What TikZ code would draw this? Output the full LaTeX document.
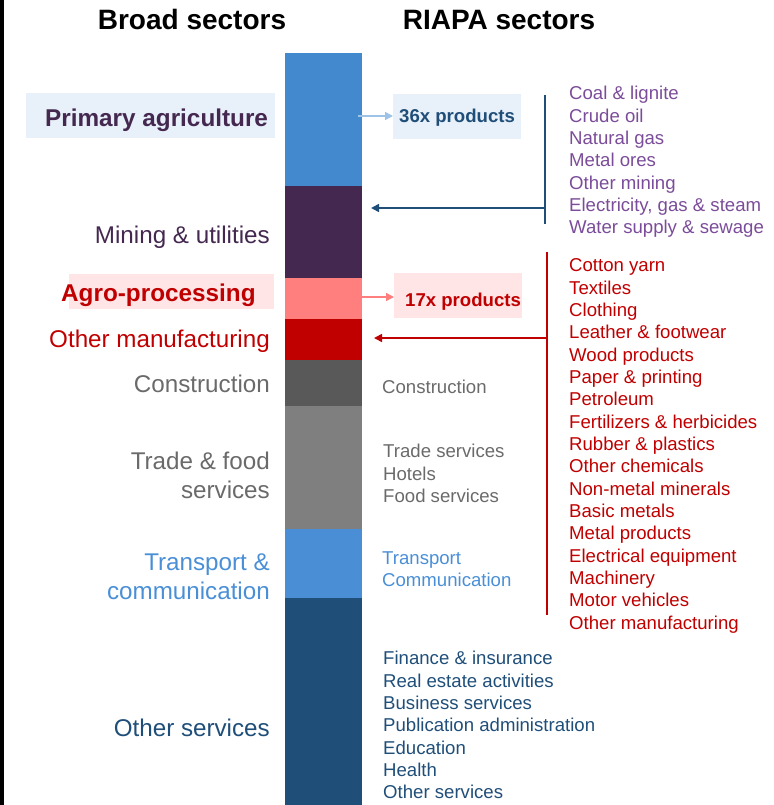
\documentclass[tikz,border=0pt]{standalone}
\usepackage{fontspec}
\setmainfont{Liberation Sans}
\usetikzlibrary{arrows.meta}
\definecolor{cblue}{HTML}{4389CD}
\definecolor{cpurple}{HTML}{44284F}
\definecolor{cpink}{HTML}{FF7F7F}
\definecolor{cred}{HTML}{C00000}
\definecolor{cdgray}{HTML}{595959}
\definecolor{cgray}{HTML}{7F7F7F}
\definecolor{cnavy}{HTML}{1F4E79}
\definecolor{tgray}{HTML}{6A6A6A}
\definecolor{tblue}{HTML}{4A8FD6}
\definecolor{lpurple}{HTML}{7B4C99}
\definecolor{boxblue}{HTML}{E8F1FA}
\definecolor{boxpink}{HTML}{FFE5E5}
\definecolor{arrblue}{HTML}{9DC3E6}
\begin{document}
\begin{tikzpicture}[x=1pt,y=-1pt,
  title/.style={font=\fontsize{28}{32}\selectfont\bfseries,anchor=base,inner sep=0},
  lefttxt/.style={font=\fontsize{24.2}{28.5}\selectfont,anchor=base east,inner sep=0,align=right},
  leftbold/.style={font=\fontsize{24.3}{28}\selectfont\bfseries,anchor=base west,inner sep=0},
  listtxt/.style={font=\fontsize{18.6}{22.35}\selectfont,anchor=base west,inner sep=0,align=left},
  prodtxt/.style={font=\fontsize{18.6}{22}\selectfont\bfseries,anchor=base west,inner sep=0},
  conn/.style={line width=1.6pt,-{Triangle[length=8pt,width=8pt]}},
  brace/.style={line width=1.4pt}]
\useasboundingbox (0,0) rectangle (773,805);
% left border
\draw[line width=3.5pt] (2.2,0) -- (2.2,805);
% titles
\node[title] (t1) at (192,30) {Broad sectors};
\node[title] (t2) at (499,30) {RIAPA sectors};
% bar segments
\fill[cblue]   (285,53)  rectangle (362,186);
\fill[cpurple] (285,186) rectangle (362,278);
\fill[cpink]   (285,278) rectangle (362,319);
\fill[cred]    (285,319) rectangle (362,360);
\fill[cdgray]  (285,360) rectangle (362,406);
\fill[cgray]   (285,406) rectangle (362,529);
\fill[tblue]   (285,529) rectangle (362,598);
\fill[cnavy]   (285,598) rectangle (362,805);
% highlight boxes left
\fill[boxblue] (26,93) rectangle (275,138);
\fill[boxpink] (69,274) rectangle (274,309);
% left labels
\node[leftbold,text=cpurple] (pa) at (45,127) {Primary agriculture};
\node[lefttxt,text=cpurple] (mu) at (270,243) {Mining \& utilities};
\node[leftbold,text=cred] (ap) at (61,301) {Agro-processing};
\node[lefttxt,text=cred] (om) at (270,347) {Other manufacturing};
\node[lefttxt,text=tgray] (co) at (270,392) {Construction};
\node[lefttxt,text=tgray,anchor=north east] (tf) at (270,452) {Trade \& food\\services};
\node[lefttxt,text=tblue,anchor=north east] (tc) at (270,554) {Transport \&\\communication};
\node[lefttxt,text=cnavy] (os) at (270,736) {Other services};
% product boxes
\fill[boxblue] (393,94) rectangle (521,139);
\node[prodtxt,text=cnavy] (p36) at (399,123) {36x products};
\fill[boxpink] (394,273) rectangle (522,318);
\node[prodtxt,text=cred] (p17) at (405,306) {17x products};
\coordinate (a1s) at (358,116);
\coordinate (a1e) at (393,116);
\coordinate (a2s) at (362,297);
\coordinate (a2e) at (394,297);
\draw[arrblue,conn] (a1s) -- (a1e);
\draw[cpink,conn] (a2s) -- (a2e);
% brackets and return arrows
\coordinate (b1t) at (545,95);
\coordinate (b1b) at (545,224);
\coordinate (b1m) at (545,208);
\coordinate (b1e) at (371,208);
\draw[cnavy,brace] (b1t) -- (b1b);
\draw[cnavy,conn] (b1m) -- (b1e);
\coordinate (b2t) at (547,252);
\coordinate (b2b) at (547,615);
\coordinate (b2m) at (547,338);
\coordinate (b2e) at (374,338);
\draw[cred,brace] (b2t) -- (b2b);
\draw[cred,conn] (b2m) -- (b2e);
% lists
\node[listtxt,text=lpurple,anchor=north west] (l1) at (569,86) {Coal \& lignite\\Crude oil\\Natural gas\\Metal ores\\Other mining\\Electricity, gas \& steam\\Water supply \& sewage};
\node[listtxt,text=cred,anchor=north west] (l2) at (569,258.5) {Cotton yarn\\Textiles\\Clothing\\Leather \& footwear\\Wood products\\Paper \& printing\\Petroleum\\Fertilizers \& herbicides\\Rubber \& plastics\\Other chemicals\\Non-metal minerals\\Basic metals\\Metal products\\Electrical equipment\\Machinery\\Motor vehicles\\Other manufacturing};
\node[listtxt,text=tgray] (r1) at (382,393) {Construction};
\node[listtxt,text=tgray,anchor=north west] (r2) at (383,444) {Trade services\\Hotels\\Food services};
\node[listtxt,text=tblue,anchor=north west] (r3) at (382,551) {Transport\\Communication};
\node[listtxt,text=cnavy,anchor=north west] (r4) at (383,651) {Finance \& insurance\\Real estate activities\\Business services\\Publication administration\\Education\\Health\\Other services};
\end{tikzpicture}
\end{document}
